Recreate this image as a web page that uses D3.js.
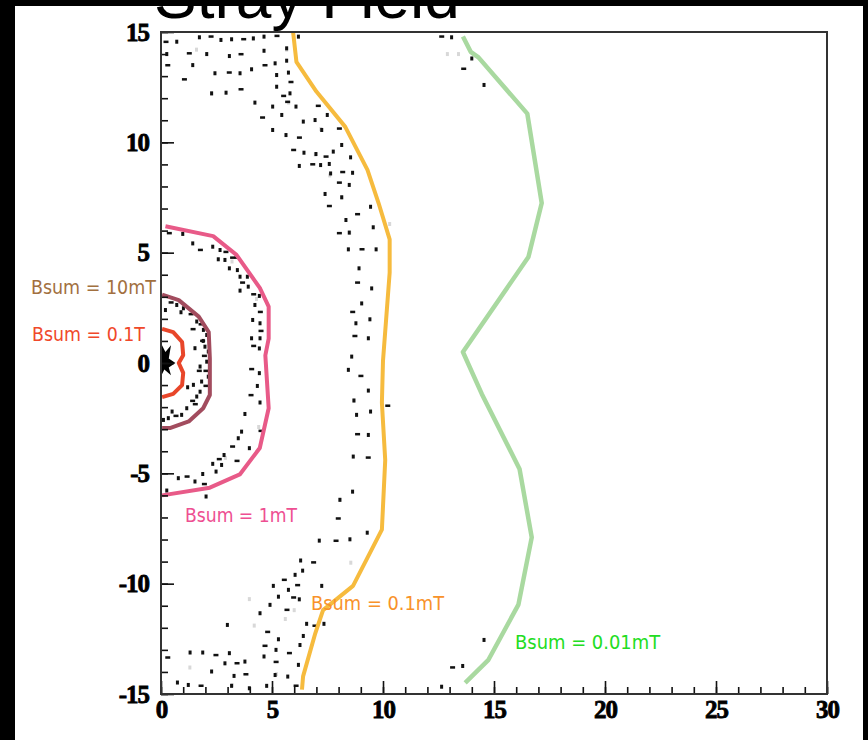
<!DOCTYPE html>
<html>
<head>
<meta charset="utf-8">
<script src="https://cdn.jsdelivr.net/npm/d3@7"></script>
<style>
  html, body { margin: 0; padding: 0; background: #fff; }
  svg { display: block; }
</style>
</head>
<body>
<div id="chart"></div>
<script>
// contour lines, [r, z]
const contour001mT = [[13.6,14.8],[13.95,14.1],[14.3,13.85],[16.5,11.3],[17.15,7.25],[16.55,4.8],[13.6,0.5],[14.45,-1.4],[16.15,-4.8],[16.7,-7.9],[16.1,-10.95],[14.75,-13.45],[13.7,-14.5]];
const contour01mT = [[5.95,15],[6.1,13.65],[7.0,12.3],[8.3,10.7],[9.3,8.75],[9.8,7.25],[10.3,5.6],[10.3,4.1],[10.0,0.1],[9.95,-1.8],[10.1,-4.4],[9.95,-7.55],[8.65,-10.1],[7.3,-11.2],[6.95,-12.25],[6.4,-14.2],[6.35,-14.8]];
const contour1mT = [[0.2,6.2],[2.35,5.75],[3.4,4.9],[4.45,3.4],[4.85,2.55],[4.85,1.1],[4.7,0.35],[4.85,-2.05],[4.45,-3.85],[3.55,-5.05],[2.2,-5.65],[0.05,-6.0]];
const contour10mT = [[0.05,3.1],[0.8,2.85],[1.7,2.1],[2.15,1.4],[2.2,0.2],[2.2,-1.45],[1.9,-2.05],[1.25,-2.65],[0.4,-2.95],[0.05,-2.95]];
const contour01T = [[0.05,1.55],[0.55,1.4],[0.95,0.95],[1.0,0.35],[0.8,0.0],[1.0,-0.45],[0.95,-1.0],[0.55,-1.4],[0.05,-1.55]];
const coreBlob = [[0,0.9],[0.2,0.5],[0.45,0.8],[0.35,0.2],[0.65,0.0],[0.35,-0.2],[0.45,-0.55],[0.15,-0.3],[0,-0.6]];

// scattered black cells
const blackDots = [
  [0.18,14.52],[0.71,14.56],[1.73,14.76],[2.21,14.76],[2.7,14.64],[3.18,14.67],[3.68,14.64],[4.16,14.71],[4.64,14.79],[5.18,14.79],[6.19,14.79],
  [0.26,14.0],[1.23,14.0],[2.06,14.0],[3.08,13.91],[3.56,13.96],[4.64,14.15],[5.66,14.26],
  [0.26,13.46],[1.43,13.5],[2.43,13.13],[3.03,13.13],[3.56,13.13],[4.08,13.31],[4.64,13.46],[5.14,13.58],[5.66,13.7],
  [1.01,12.82],[2.28,12.22],[2.93,12.25],[3.56,12.37],[5.21,13.05],[5.74,13.16],[5.81,12.7],[5.21,12.52],
  [4.23,11.8],[4.53,11.09],[5.03,11.62],[5.44,11.24],[5.48,12.07],[5.81,12.22],[6.08,11.62],[5.66,11.8],
  [5.03,10.56],[5.63,10.33],[6.19,10.18],[6.41,10.94],[6.94,11.01],[7.04,11.62],[7.49,11.24],[7.24,10.56],
  [5.93,9.62],[6.44,9.53],[6.98,9.47],[7.39,9.32],[7.76,9.58],[8.14,9.88],[7.99,10.59],[8.54,9.32],
  [6.23,8.93],[6.79,8.97],[7.19,8.97],[7.58,9.02],[8.14,8.62],[8.63,8.62],[7.64,8.59],
  [7.99,8.14],[8.48,8.07],[7.39,7.66],[7.54,7.08],[8.14,7.51],
  [8.33,6.48],[8.81,6.71],[9.44,7.08],[9.56,6.15],[7.99,5.85],[8.48,5.91],[8.44,5.15],[9.01,5.12],[9.69,5.15],
  [8.92,4.29],[8.81,3.61],[9.49,3.38],[9.04,2.7],[8.59,2.28],[8.78,1.8],[9.41,1.98],[8.69,1.19],[9.34,1.12],[8.59,0.29],
  [0.33,5.85],[0.98,5.85],[1.43,5.42],[1.73,5.09],[2.33,5.27],[2.66,5.12],[2.88,5.0],[2.58,4.7],[2.88,4.67],[3.18,4.74],
  [3.08,4.29],[3.44,4.21],[3.38,4.74],[3.56,3.91],[3.89,3.91],[3.63,3.61],[3.93,3.46],[3.56,3.28],[4.13,3.08],[4.43,3.04],
  [4.23,2.63],[4.43,2.28],[4.13,1.95],[4.46,1.8],[4.46,1.42],[4.08,1.12],[4.46,1.12],[4.13,0.74],[4.43,0.66],
  [8.44,-0.31],[8.96,-0.62],[9.34,-1.25],[9.44,-2.2],[10.17,-1.97],[8.69,-1.7],[8.81,-2.35],[8.81,-3.26],[9.34,-3.26],
  [8.66,-4.24],[9.29,-4.32],[8.63,-5.83],[8.06,-6.2],[7.94,-7.08],[9.29,-7.69],[8.51,-7.99],[7.84,-8.09],[7.13,-8.05],
  [6.29,-8.95],[6.83,-9.07],[6.38,-9.41],[6.04,-9.6],[5.51,-9.86],[5.06,-10.1],[5.74,-10.28],[6.11,-10.1],[7.24,-10.1],
  [5.29,-10.59],[5.93,-10.66],[6.23,-10.71],[4.91,-10.96],[5.63,-11.22],[4.46,-11.34],[6.56,-11.82],[6.89,-11.94],[7.34,-11.82],
  [6.41,-12.37],[4.76,-12.22],[2.99,-11.87],[5.29,-12.52],[4.64,-12.85],[6.26,-12.78],[5.18,-13.0],[5.74,-13.18],
  [1.31,-13.12],[1.88,-13.12],[2.43,-13.27],[3.08,-13.15],[2.88,-13.61],[3.38,-13.64],[3.78,-13.53],[4.64,-13.3],[5.14,-13.58],
  [5.71,-14.21],[6.19,-13.68],[0.26,-13.38],[0.74,-14.48],[1.23,-14.59],[1.76,-14.66],[2.28,-13.98],[3.29,-14.18],[3.78,-14.14],
  [4.76,-14.63],[5.14,-14.14],[6.04,-14.66],[3.18,-14.63],[3.98,-14.74],
  [4.04,-0.31],[4.43,-0.46],[4.34,-1.04],[4.01,-1.49],[4.46,-1.79],[3.78,-2.31],[4.46,-3.11],[3.63,-3.11],[3.48,-3.41],
  [3.18,-3.82],[3.98,-3.86],[2.84,-4.17],[2.58,-4.39],[2.33,-4.57],[2.73,-4.62],[3.38,-4.47],[2.48,-4.92],[1.88,-5.03],
  [1.13,-5.18],[0.78,-5.22],[1.53,-5.37],[1.91,-5.52],[0.26,-5.78],[2.03,-6.05],
  [1.76,1.72],[1.91,1.5],[2.06,1.27],[1.83,0.97],[1.98,0.74],[2.13,0.52],[1.91,0.29],[2.06,0.06],[1.76,-0.16],[1.98,-0.39],
  [2.13,-0.62],[1.83,-0.84],[1.98,-1.07],[1.76,-1.3],[1.61,-1.52],[1.38,-1.75],[1.16,-2.05],[0.93,-2.35],[0.63,-2.43],
  [0.33,-2.5],[0.11,-2.58],[1.31,2.18],[1.01,2.48],[0.71,2.63],[0.41,2.71],[1.61,1.88],[1.46,-0.99],[1.68,-0.39],[1.53,0.67],
  [1.2,-1.1],[1.5,-1.9],[0.5,-2.2],[1.9,1.0],[1.4,1.5],[0.9,2.3],[0.2,2.4],
  [12.6,14.76],[13.09,14.76],[14.0,13.8],[13.59,13.3],[14.55,12.6],
  [14.55,-12.55],[13.09,-13.83],[13.59,-13.73],[12.64,-14.67]
];
const greyDots = [
  [1.6,14.2],[4.16,14.7],[2.28,12.2],[5.2,13.05],[5.66,14.2],[5.75,11.8],[7.2,10.6],[6.95,9.45],[7.6,8.5],[8.15,7.5],
  [8.5,5.9],[10.3,6.3],[8.7,-1.7],[8.05,-6.2],[8.55,-9.05],[3.98,-10.7],[4.2,-11.9],[3.2,-14.6],[5.2,-14.1],[1.3,-13.8],
  [6.0,-11.2],[5.6,-11.6],[13.4,14.0],[12.9,14.0],[3.2,4.6],[4.3,2.9],[4.4,-2.9],[2.9,-4.3]
];

// labels [x, y, text]
const labels = [
  { x: -5.86, y: 3.45, text: "Bsum = 10mT", color: "#a2703f", w: 125 },
  { x: -5.81, y: 1.32, text: "Bsum = 0.1T", color: "#f0482a", w: 113 },
  { x: 1.08, y: -6.9, text: "Bsum = 1mT", color: "#ee4f92", w: 112 },
  { x: 6.76, y: -10.87, text: "Bsum = 0.1mT", color: "#f8922a", w: 133 },
  { x: 15.95, y: -12.68, text: "Bsum = 0.01mT", color: "#22dd22", w: 145 }
];
const contours = [
  { pts: contour001mT, color: "#a9d9a0", w: 4.5 },
  { pts: contour01mT, color: "#f6bb3e", w: 4 },
  { pts: contour1mT, color: "#e85a88", w: 4 },
  { pts: contour10mT, color: "#a24c5e", w: 4 },
  { pts: contour01T, color: "#e8462a", w: 4 }
];
const xMajor = [0, 5, 10, 15, 20, 25, 30];
const yMajor = [-15, -10, -5, 0, 5, 10, 15];

const W = 868, H = 740;
const svg = d3.select("#chart").append("svg")
  .attr("width", W).attr("height", H);
svg.append("rect").attr("width", W).attr("height", H).attr("fill", "#fff");

const x = d3.scaleLinear().domain([0, 30]).range([161, 827]);
const y = d3.scaleLinear().domain([-15, 15]).range([694, 32]);

// title (top is cut off by the window, as in the original)
svg.append("text")
  .attr("x", 154).attr("y", 18)
  .attr("font-family", "Liberation Sans, Arial, sans-serif")
  .attr("font-size", 64)
  .attr("fill", "#000")
  .text("Stray Field");

const plot = svg.append("g");

// cells
plot.selectAll("rect.grey").data(greyDots).join("rect")
  .attr("class", "grey")
  .attr("x", d => x(d[0]) - 1.5).attr("y", d => y(d[1]) - 2)
  .attr("width", 3).attr("height", 4)
  .attr("fill", "#d8d8d8");
plot.selectAll("rect.cell").data(blackDots).join("rect")
  .attr("class", "cell")
  .attr("x", d => x(d[0]) - 1.5).attr("y", d => y(d[1]) - 2)
  .attr("width", (d, i) => i % 3 === 0 ? 5 : 3)
  .attr("height", (d, i) => i % 3 === 0 ? 2.5 : 4)
  .attr("fill", "#111");

const line = d3.line().x(d => x(d[0])).y(d => y(d[1]));

plot.append("path")
  .attr("d", line(coreBlob) + "Z")
  .attr("fill", "#000");

plot.selectAll("path.contour").data(contours).join("path")
  .attr("class", "contour")
  .attr("d", d => line(d.pts))
  .attr("fill", "none")
  .attr("stroke", d => d.color)
  .attr("stroke-width", d => d.w)
  .attr("stroke-linejoin", "round");

// axes, ticks inside the frame
const tickFont = "Liberation Serif, DejaVu Serif, serif";
const fmt = d => String(d); // plain hyphen for negatives
svg.append("g")
  .attr("transform", "translate(0,694)")
  .call(d3.axisBottom(x).tickValues(d3.range(0, 31)).tickSize(-7).tickFormat(""))
  .call(g => g.select(".domain").remove());
svg.append("g")
  .attr("transform", "translate(161,0)")
  .call(d3.axisLeft(y).tickValues(d3.range(-15, 16)).tickSize(-7).tickFormat(""))
  .call(g => g.select(".domain").remove());

const xAxis = svg.append("g")
  .attr("transform", "translate(0,694)")
  .call(d3.axisBottom(x).tickValues(xMajor).tickSize(-13).tickPadding(6).tickFormat(fmt));
const yAxis = svg.append("g")
  .attr("transform", "translate(161,0)")
  .call(d3.axisLeft(y).tickValues(yMajor).tickSize(-13).tickPadding(12).tickFormat(fmt));

[xAxis, yAxis].forEach(g => {
  g.select(".domain").remove();
  g.selectAll("text")
    .attr("font-family", tickFont)
    .attr("font-weight", "bold")
    .attr("font-size", 25)
    .attr("letter-spacing", -1)
    .attr("fill", "#000")
    .attr("stroke", "#000").attr("stroke-width", 0.8);
});
svg.selectAll(".tick line").attr("stroke", "#111").attr("stroke-width", 1.6);

// frame
svg.append("rect")
  .attr("x", x(0)).attr("y", y(15))
  .attr("width", x(30) - x(0)).attr("height", y(-15) - y(15))
  .attr("fill", "none")
  .attr("stroke", "#333").attr("stroke-width", 2);

// labels
svg.selectAll("text.lbl").data(labels).join("text")
  .attr("class", "lbl")
  .attr("x", d => x(d.x)).attr("y", d => y(d.y))
  .attr("dy", "0.35em")
  .attr("font-family", "Liberation Sans Narrow, DejaVu Sans Condensed, Liberation Sans, sans-serif")
  .attr("font-size", 19)
  .attr("textLength", d => d.w)
  .attr("lengthAdjust", "spacingAndGlyphs")
  .attr("fill", d => d.color)
  .text(d => d.text);

// black window edges
svg.append("rect").attr("x", 0).attr("y", 0).attr("width", W).attr("height", 6).attr("fill", "#000");
svg.append("rect").attr("x", 0).attr("y", 0).attr("width", 15).attr("height", H).attr("fill", "#000");
svg.append("rect").attr("x", 863).attr("y", 0).attr("width", 5).attr("height", H).attr("fill", "#000");
</script>
</body>
</html>
